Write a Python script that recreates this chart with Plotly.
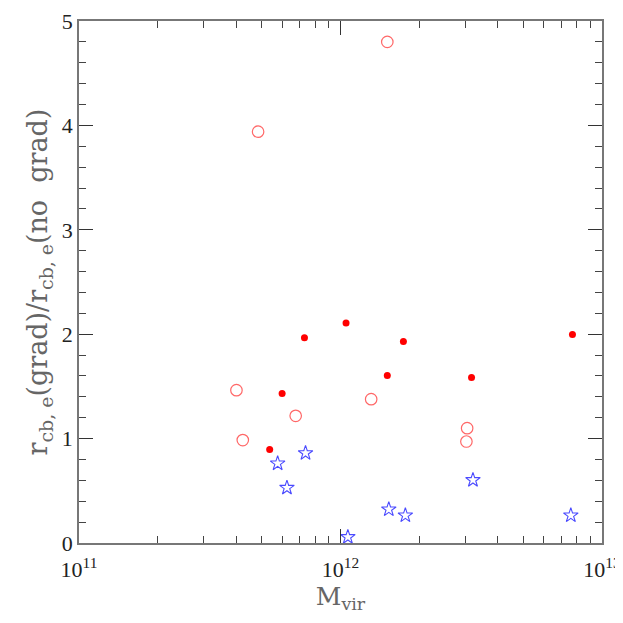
import plotly.graph_objects as go
import numpy as np

# Open red circles
open_mvir = [1.51e12, 4.84e11, 4.0e11, 4.23e11, 6.74e11, 1.31e12, 3.05e12, 3.03e12]
open_ratio = [4.80, 3.94, 1.464, 0.986, 1.218, 1.378, 1.10, 0.972]

# Filled red dots
fill_mvir = [1.05e12, 7.28e11, 1.74e12, 1.51e12, 5.98e11, 5.36e11, 7.71e12, 3.17e12]
fill_ratio = [2.108, 1.965, 1.929, 1.604, 1.432, 0.896, 1.996, 1.585]

# Blue stars
star_mvir = [7.35e11, 5.75e11, 6.24e11, 1.53e12, 1.77e12, 1.067e12, 3.21e12, 7.6e12]
star_ratio = [0.861, 0.762, 0.529, 0.322, 0.264, 0.057, 0.603, 0.264]

x_ticks = [1e11, 1e12, 1e13]
x_ticktext = ["10<sup>11</sup>", "10<sup>12</sup>", "10<sup>13</sup>"]
x_minor = [m * d for d in (1e11, 1e12) for m in range(2, 10)]

FONT = "Liberation Serif"
TFONT = "DejaVu Serif"

fig = go.Figure()
fig.add_trace(go.Scatter(x=open_mvir, y=open_ratio, mode="markers",
                         marker=dict(symbol="circle-open", size=11.5, color="#ff6868",
                                     line=dict(width=1.2, color="#ff6868")),
                         showlegend=False))
fig.add_trace(go.Scatter(x=fill_mvir, y=fill_ratio, mode="markers",
                         marker=dict(symbol="circle", size=7, color="#ff0000"),
                         showlegend=False))
fig.add_trace(go.Scatter(x=star_mvir, y=star_ratio, mode="markers",
                         marker=dict(symbol="star-open", size=11, color="#4a4aff",
                                     line=dict(width=1.1, color="#4a4aff")),
                         showlegend=False))

fig.update_layout(
    width=615, height=615,
    margin=dict(l=71, r=21, t=13, b=80),
    paper_bgcolor="white", plot_bgcolor="white",
    font=dict(family=FONT, color="#222"),
)
fig.update_xaxes(
    type="log", range=[11, 13], automargin=False,
    tickmode="array", tickvals=x_ticks, ticktext=x_ticktext,
    ticks="inside", ticklen=14, tickwidth=1.2, tickcolor="#333",
    ticklabelstandoff=6,
    minor=dict(tickmode="array", tickvals=x_minor, ticks="inside", ticklen=7,
               tickwidth=1, tickcolor="#444", showgrid=False),
    showline=True, linecolor="#777", linewidth=1.5, mirror="ticks",
    showgrid=False, zeroline=False,
    tickfont=dict(size=22, family=FONT, color="#222"),
    title=dict(text="M<sub>vir</sub>", font=dict(size=25, family=TFONT, color="#666"), standoff=4),
)
fig.update_yaxes(
    range=[0, 5], tickmode="linear", tick0=0, dtick=1, automargin=False,
    ticks="inside", ticklen=14, tickwidth=1.2, tickcolor="#333",
    minor=dict(dtick=0.2, ticks="inside", ticklen=7, tickwidth=1,
               tickcolor="#444", showgrid=False),
    showline=True, linecolor="#777", linewidth=1.5, mirror="ticks",
    showgrid=False, zeroline=False,
    tickfont=dict(size=22, family=FONT, color="#222"),
    title=dict(text="r<sub>cb, e</sub>(grad)/r<sub>cb, e</sub>(no  grad)",
               font=dict(size=27, family=TFONT, color="#666"), standoff=6),
)

fig.write_html("out.html")
